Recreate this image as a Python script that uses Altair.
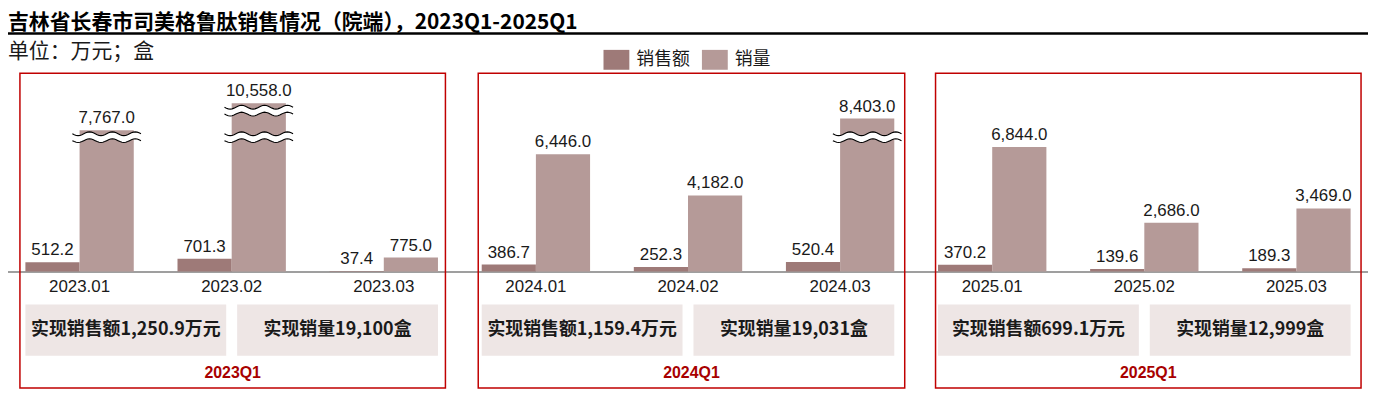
import math
import altair as alt
import pandas as pd

# ---------------- data ----------------
months = ["2023.01", "2023.02", "2023.03", "2024.01", "2024.02", "2024.03",
          "2025.01", "2025.02", "2025.03"]
sales = [512.2, 701.3, 37.4, 386.7, 252.3, 520.4, 370.2, 139.6, 189.3]
volume = [7767.0, 10558.0, 775.0, 6446.0, 4182.0, 8403.0, 6844.0, 2686.0, 3469.0]
series_names = ["销售额", "销量"]
panel_labels = ["2023Q1", "2024Q1", "2025Q1"]
panel_sales_text = ["实现销售额1,250.9万元", "实现销售额1,159.4万元", "实现销售额699.1万元"]
panel_volume_text = ["实现销量19,100盒", "实现销量19,031盒", "实现销量12,999盒"]
title_text = "吉林省长春市司美格鲁肽销售情况（院端），2023Q1-2025Q1"
unit_text = "单位：万元；盒"

# ---------------- styles / layout ----------------
series_colors = ["#9e7a78", "#b59a98"]
W, H, BOTTOM = 1368, 264, 118
X0, STEP = -4.5, 153.0
BAR_W = 54.5
Y_TOP_VALUE, Y_TOP_PX = 9250, 94.6
BREAK_LOW, BREAK_HIGH = 7380, 8840
CJK = "Noto Sans CJK SC"
LAT = "Liberation Sans"
TXT = "#1a1a1a"
RED = "#c00000"

rows = []
for m, s, v in zip(months, sales, volume):
    rows.append({"month": m, "series": series_names[0], "value": s})
    rows.append({"month": m, "series": series_names[1], "value": v})
df = pd.DataFrame(rows)

xenc = alt.X("month:N", sort=months,
             scale=alt.Scale(domain=months, range=[X0, X0 + 9 * STEP],
                             paddingInner=0, paddingOuter=0),
             axis=alt.Axis(title=None, labelAngle=0, ticks=False,
                           domainColor="#7f7f7f", domainWidth=1.5,
                           labelFont=LAT, labelFontSize=17, labelColor=TXT,
                           labelPadding=7, grid=False))
yscale = alt.Scale(domain=[0, Y_TOP_VALUE], range=[H, Y_TOP_PX], clamp=True)
yenc = alt.Y("value:Q", scale=yscale, axis=None)
cenc = alt.Color("series:N",
                 scale=alt.Scale(domain=series_names, range=series_colors),
                 legend=alt.Legend(orient="none", legendX=602, legendY=41,
                                   direction="horizontal", title=None,
                                   symbolType="M-1.3,-1L1.3,-1L1.3,1L-1.3,1Z",
                                   symbolSize=400, symbolStrokeWidth=0,
                                   symbolOpacity=1,
                                   labelFont=CJK, labelFontSize=18,
                                   labelColor=TXT, labelOffset=10,
                                   columnPadding=12, padding=0))

base = alt.Chart(df)
layers = []
for k, name in enumerate(series_names):
    off = (k - 0.5) * BAR_W
    src = base.transform_filter(alt.datum.series == name)
    layers.append(src.mark_bar(width=BAR_W, xOffset=off).encode(x=xenc, y=yenc, color=cenc))

# break markers (wavy), derived from tall bars
def wave(c, a, n=36):
    pts = []
    for k in range(n + 1):
        x = -1 + 2 * k / n
        y = c + a * math.sin(3 * math.pi * (x + 1))
        pts.append(f"{x:.3f},{y:.3f}")
    return pts

top = wave(-0.1, 0.055)
bot = wave(0.1, 0.055)
fill_path = "M" + "L".join(top) + "L" + "L".join(bot[::-1]) + "Z"
line_path = "M" + "L".join(top) + "M" + "L".join(bot)
BREAK_SIZE = 69 ** 2
VOL_OFF = 0.5 * BAR_W

def breaks(threshold, at):
    src = base.transform_filter(
        (alt.datum.series == series_names[1]) & (alt.datum.value > threshold)
    ).transform_calculate(brk=str(at))
    ybrk = alt.Y("brk:Q", scale=yscale, axis=None)
    f = src.mark_point(shape=fill_path, size=BREAK_SIZE, filled=True, color="white",
                       strokeWidth=0, opacity=1, xOffset=VOL_OFF).encode(x=xenc, y=ybrk)
    l = src.mark_point(shape=line_path, size=BREAK_SIZE, filled=False, color="black",
                       strokeWidth=1.1, opacity=1, xOffset=VOL_OFF).encode(x=xenc, y=ybrk)
    return [f, l]

layers += breaks(7000, BREAK_LOW) + breaks(Y_TOP_VALUE, BREAK_HIGH)

for k, name in enumerate(series_names):
    off = (k - 0.5) * BAR_W
    src = base.transform_filter(alt.datum.series == name)
    layers.append(src.mark_text(font=LAT, fontSize=17, color=TXT, baseline="alphabetic",
                                align="center", dy=-7, xOffset=off).encode(
        x=xenc, y=yenc, text=alt.Text("value:Q", format=",.1f")))

one = pd.DataFrame({"k": [0]})

def center(i):
    return X0 + STEP * (i + 0.5)

box_left = [12, 473, 933]
box_right = [440, 902, 1361]
BOX_TOP, BOX_BOTTOM = 64.5, 381
SUM_TOP, SUM_BOTTOM = 297, 348.7

for p in range(3):
    c0, c1, c2 = center(3 * p), center(3 * p + 1), center(3 * p + 2)
    layers.append(alt.Chart(one).mark_rect(fillOpacity=0, stroke=RED, strokeWidth=1.5).encode(
        x=alt.value(box_left[p]), x2=alt.value(box_right[p]),
        y=alt.value(BOX_TOP), y2=alt.value(BOX_BOTTOM)))
    spans = [(c0 - BAR_W, c1 - 5.5, panel_sales_text[p]),
             (c1 + 5.5, c2 + BAR_W, panel_volume_text[p])]
    for a, b, t in spans:
        layers.append(alt.Chart(one).mark_rect(color="#eee6e5").encode(
            x=alt.value(a), x2=alt.value(b), y=alt.value(SUM_TOP), y2=alt.value(SUM_BOTTOM)))
        layers.append(alt.Chart(one).mark_text(
            text=t, font=CJK, fontWeight="bold", fontSize=18, color=TXT,
            align="center", baseline="middle").encode(
            x=alt.value((a + b) / 2), y=alt.value((SUM_TOP + SUM_BOTTOM) / 2)))
    layers.append(alt.Chart(one).mark_text(
        text=panel_labels[p], font=LAT, fontWeight="bold", fontSize=16, color="#a80000",
        align="center", baseline="middle").encode(
        x=alt.value((box_left[p] + box_right[p]) / 2), y=alt.value(366.5)))

layers.append(alt.Chart(one).mark_text(
    text=title_text, font=CJK, fontWeight="bold", fontSize=21, color="black",
    align="left", baseline="alphabetic").encode(x=alt.value(0), y=alt.value(19.5)))
layers.append(alt.Chart(one).mark_rule(color="black", strokeWidth=2.5).encode(
    x=alt.value(0), x2=alt.value(W), y=alt.value(24.5)))
layers.append(alt.Chart(one).mark_text(
    text=unit_text, font=CJK, fontSize=21, color=TXT,
    align="left", baseline="alphabetic").encode(x=alt.value(0), y=alt.value(49.5)))

chart = alt.layer(*layers).properties(
    width=W, height=H,
    background="white",
    autosize=alt.AutoSizeParams(type="none"),
    padding={"left": 0, "right": 0, "top": 0, "bottom": BOTTOM},
).configure_view(strokeWidth=0)

chart.save("out.html", embed_options={"renderer": "svg", "actions": False})
